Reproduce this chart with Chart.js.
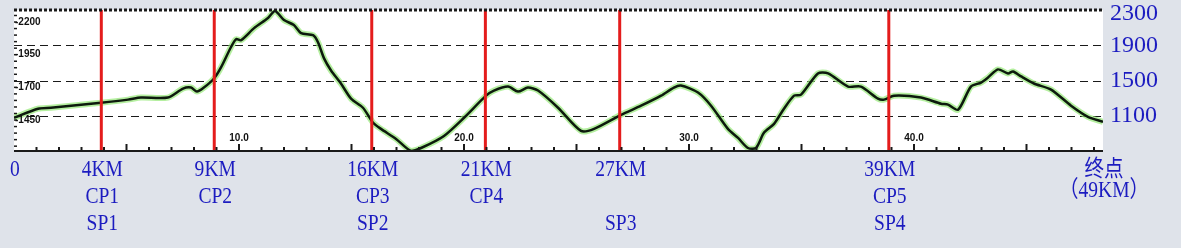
<!DOCTYPE html>
<html>
<head>
<meta charset="utf-8">
<script src="https://cdn.jsdelivr.net/npm/chart.js@4.4.1/dist/chart.umd.min.js"></script>
<style>
  html, body { margin: 0; padding: 0; background: #dfe3ea; }
  #wrap { width: 1181px; height: 248px; }
</style>
</head>
<body>
<div id="wrap"><canvas id="profile" width="1181" height="248"></canvas></div>
<script>
// Profil altimétrique — distance (km) / altitude (m)
const KM = [0, 1.07, 1.64, 3.87, 5.07, 5.64, 6.84, 7.51, 7.87, 8.13, 8.44, 8.89, 9.2, 9.64, 9.87,
  10.09, 10.67, 11.29, 11.6, 12.0, 12.44, 12.76, 13.29, 13.51, 13.78, 14.09, 14.53, 14.98, 15.51,
  15.96, 16.31, 16.98, 17.64, 18.09, 19.11, 20.0, 20.98, 21.33, 21.96, 22.4, 22.84, 23.29, 24.18,
  25.2, 25.78, 26.98, 27.87, 28.76, 29.33, 29.64, 30.4, 30.98, 31.73, 32.18, 32.62, 32.98, 33.33,
  33.78, 34.22, 34.67, 34.98, 35.73, 36.18, 37.07, 37.64, 38.4, 38.67, 39.11, 40.31, 41.2, 41.51,
  41.96, 42.53, 42.98, 43.29, 43.73, 44.18, 44.4, 44.76, 45.33, 46.09, 46.98, 47.73, 48.4];
const ELEV = [1077, 1180, 1191, 1248, 1283, 1306, 1306, 1408, 1420, 1374, 1420, 1523, 1648, 1877, 1969,
  1957, 2094, 2209, 2289, 2186, 2129, 2037, 2014, 1934, 1751, 1614, 1466, 1294, 1191,
  1020, 951, 837, 700, 734, 871, 1077, 1328, 1386, 1431, 1374, 1420, 1386, 1191,
  928, 951, 1111, 1214, 1328, 1420, 1443, 1363, 1214, 951, 848, 734, 734, 906,
  1008, 1180, 1328, 1340, 1580, 1580, 1431, 1431, 1294, 1283, 1328, 1306, 1237, 1226,
  1168, 1431, 1477, 1534, 1626, 1580, 1603, 1546, 1466, 1397, 1214, 1088, 1031];

// Points de contrôle (lignes rouges) et étiquettes du bas
const MARK_KM    = [3.88, 8.9, 15.9, 20.95, 26.92, 38.88];
const LABEL_KM   = [0, 3.88, 8.9, 15.9, 20.95, 26.92, 38.88, 48.4];
const LABEL_ROW1 = ['0', '4KM', '9KM', '16KM', '21KM', '27KM', '39KM', '终点'];
const LABEL_ROW2 = ['', 'CP1', 'CP2', 'CP3', 'CP4', '', 'CP5', '（49KM）'];
const LABEL_ROW3 = ['', 'SP1', '', 'SP2', '', 'SP3', 'SP4', ''];

// Graduations
const RIGHT_TICKS   = [2300, 1900, 1500, 1100];
const GRID_VALUES   = [1900, 1500, 1100];
const LEFT_TICKS    = [2200, 1950, 1700, 1450];
const INNER_X_TICKS = [10, 20, 30, 40];

const BLUE = '#1c1cc0';
const RED  = '#e41c1c';

const points = KM.map((k, i) => ({ x: k, y: ELEV[i] }));

function line(ctx, x1, y1, x2, y2) {
  ctx.beginPath(); ctx.moveTo(x1, y1); ctx.lineTo(x2, y2); ctx.stroke();
}

function serifText(ctx, txt, x, y) {
  // police étroite façon SimSun : on compresse horizontalement
  ctx.save();
  ctx.translate(x, y);
  ctx.scale(0.85, 1);
  ctx.fillText(txt, 0, 0);
  ctx.restore();
}

const profilePlugin = {
  id: 'profile',
  beforeDatasetsDraw(chart) {
    const { ctx, chartArea: a, scales: { y } } = chart;
    ctx.save();
    ctx.fillStyle = '#fff';
    ctx.fillRect(a.left, a.top, a.width, a.height);
    ctx.strokeStyle = '#1a1a1a';
    ctx.lineWidth = 1;
    ctx.setLineDash([8, 5]);
    for (const v of GRID_VALUES) {
      const py = Math.round(y.getPixelForValue(v)) + 0.5;
      line(ctx, a.left, py, a.right, py);
    }
    ctx.restore();
  },
  afterDatasetsDraw(chart) {
    const { ctx, chartArea: a, scales: { x, yl } } = chart;
    ctx.save();
    // lignes rouges
    ctx.strokeStyle = RED;
    ctx.lineWidth = 3;
    for (const k of MARK_KM) {
      const px = x.getPixelForValue(k);
      line(ctx, px, a.top, px, a.bottom);
    }
    // bord supérieur pointillé
    ctx.strokeStyle = '#1a1a1a';
    ctx.lineWidth = 3;
    ctx.setLineDash([3, 2]);
    line(ctx, a.left, a.top, a.right, a.top);
    ctx.setLineDash([]);
    // axe du bas + graduations
    ctx.lineWidth = 2;
    line(ctx, a.left, a.bottom, a.right, a.bottom);
    for (let k = 1; k < x.max; k++) {
      const px = x.getPixelForValue(k);
      line(ctx, px, a.bottom, px, a.bottom - (k % 5 === 0 ? 7 : 4));
    }
    // petites graduations à gauche
    ctx.lineWidth = 1.5;
    for (let v = 1250; v <= 2250; v += 50) {
      const py = yl.getPixelForValue(v);
      line(ctx, a.left, py, a.left + 3, py);
    }
    // libellés internes
    ctx.fillStyle = '#111';
    ctx.font = 'bold 10px "Liberation Sans", Arial, sans-serif';
    ctx.textBaseline = 'middle';
    ctx.textAlign = 'left';
    for (const v of LEFT_TICKS) ctx.fillText('-' + v, a.left + 1, yl.getPixelForValue(v));
    ctx.textAlign = 'center';
    for (const k of INNER_X_TICKS) ctx.fillText(k.toFixed(1), x.getPixelForValue(k), a.bottom - 13);
    ctx.restore();
  },
  afterDraw(chart) {
    const { ctx, chartArea: a, scales: { x, y } } = chart;
    ctx.save();
    ctx.fillStyle = BLUE;
    ctx.textBaseline = 'middle';
    // altitudes à droite
    ctx.font = '24px "Liberation Serif", "Times New Roman", serif';
    ctx.textAlign = 'left';
    for (const v of RIGHT_TICKS) {
      ctx.fillText(String(v), a.right + 7, Math.max(y.getPixelForValue(v), a.top + 4));
    }
    // points de passage
    ctx.font = '23px "Liberation Serif", "Noto Sans CJK SC", serif';
    ctx.textAlign = 'center';
    LABEL_KM.forEach((k, i) => {
      const px = x.getPixelForValue(k) + 1;
      if (LABEL_ROW1[i]) serifText(ctx, LABEL_ROW1[i], px, a.bottom + 19);
      if (LABEL_ROW2[i]) serifText(ctx, LABEL_ROW2[i], px, a.bottom + (i === LABEL_KM.length - 1 ? 40 : 46));
      if (LABEL_ROW3[i]) serifText(ctx, LABEL_ROW3[i], px, a.bottom + 73);
    });
    ctx.restore();
  },
};

new Chart(document.getElementById('profile'), {
  type: 'line',
  data: {
    datasets: [
      { data: points, borderColor: '#0d1a0d', borderWidth: 2.5, pointRadius: 0, tension: 0.25, order: 0 },
      { data: points, borderColor: 'rgba(150,232,120,0.7)', borderWidth: 6, pointRadius: 0, tension: 0.25, order: 1 },
    ],
  },
  options: {
    responsive: false,
    animation: false,
    layout: { padding: { left: 14, top: 10, right: 78, bottom: 97 } },
    plugins: { legend: { display: false }, tooltip: { enabled: false } },
    scales: {
      x:  { type: 'linear', min: 0, max: 48.4, display: false },
      y:  { min: 700, max: 2300, display: false },
      yl: { min: 1213, max: 2292, display: false },
    },
  },
  plugins: [profilePlugin],
});
</script>
</body>
</html>
